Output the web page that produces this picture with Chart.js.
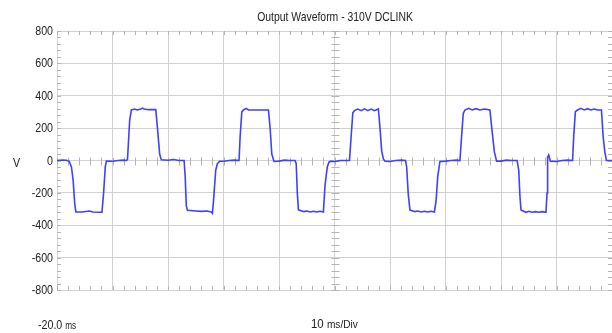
<!DOCTYPE html>
<html>
<head>
<meta charset="utf-8">
<script src="https://cdn.jsdelivr.net/npm/chart.js@4/dist/chart.umd.min.js"></script>
<style>
  body { margin: 0; background: #fff; }
  #wrap { position: relative; width: 612px; height: 333px; color: #222;
          font-family: "Liberation Sans Narrow", "Liberation Sans", Arial, sans-serif; }
  #wrap canvas { position: absolute; left: 0; top: 0; }
  .lbl { position: absolute; white-space: nowrap; font-size: 13px; line-height: 13px;
         transform-origin: left center; transform: scaleX(0.82); }
  .sm { font-size: 10px; }
  .md { font-size: 11.5px; }
</style>
</head>
<body>
<div id="wrap">
  <canvas id="scope" width="612" height="333"></canvas>
  <div class="lbl" style="left:0;width:670px;text-align:center;top:10px;transform-origin:335px center;transform:scaleX(0.8)">Output Waveform - 310V DCLINK</div>
  <div class="lbl" style="left:13px;top:156px">V</div>
  <div class="lbl" style="left:38px;top:318px">-20.0 <span class="sm">ms</span></div>
  <div class="lbl" style="left:311px;top:317px;transform:scaleX(0.88)">10 <span class="md">ms/Div</span></div>
</div>
<script>
// time (ms) and voltage (V), one row per cycle
const timeMs = [
  -20, -19, -18.3, -17.8, -17.4, -17.1, -16.8, -16.6, -15.5, -14.5, -14.2, -13.5, -12.5, -11.9, -11.6, -11.3, -11.1, -10, -9, -8,
  -7.5, -7.3, -6.9, -6.6, -6.0, -5.6, -5.0, -4.6, -4.3, -3.5, -2.2, -1.9, -1.5, -1.2, 0, 1.0, 2.0, 2.6,
  2.9, 3.1, 3.3, 3.5, 5, 6, 7, 7.8, 8.0, 8.2, 8.6, 8.9, 9.3, 10, 11, 12, 12.8, 13.0,
  13.3, 13.6, 14.1, 14.5, 16, 18.1, 18.4, 18.7, 19.1, 20, 21, 22, 22.9,
  23.1, 23.3, 23.5, 24.5, 25, 25.6, 26.2, 26.8, 27.4, 28.0, 28.3, 28.7, 29.0, 29.4, 30, 31, 32, 32.7,
  33.0, 33.3, 33.6, 34.2, 34.8, 35.4, 36.0, 36.6, 37.2, 37.9, 38.2, 38.5, 38.8, 39.1, 40, 41, 42, 42.8,
  43.0, 43.3, 43.6, 44.5, 45, 45.6, 46.2, 46.8, 47.4, 48.0, 48.3, 48.6, 49.0, 50, 51, 52, 52.6, 52.9,
  53.2, 53.5, 54.2, 54.8, 55.5, 56.2, 57, 58.0, 58.4, 58.8, 59.2, 60, 61, 62, 62.9,
  63.2, 63.4, 63.6, 64.5, 65, 65.6, 66.2, 66.8, 67.4, 68.1, 68.3, 68.4, 68.6, 68.9, 70, 71, 72, 72.9,
  73.1, 73.4, 73.8, 74.4, 75, 75.6, 76.2, 76.8, 77.4, 78.1, 78.4, 78.7, 79.0, 80
];
const volts = [
  0, 3, 2, -5, -40, -120, -270, -318, -318, -314, -312, -318, -320, -320, -200, -40, -4, -5, 0, 2,
  0, 5, 250, 312, 318, 312, 316, 324, 318, 314, 314, 200, 40, 4, 2, 6, 0, 0,
  0, -100, -280, -308, -312, -314, -312, -318, -326, -250, -60, -20, -5, -5, 0, 2, 0, 150,
  300, 312, 322, 312, 312, 312, 200, 40, -6, -4, 2, 0, 0,
  -20, -200, -305, -316, -312, -318, -314, -318, -314, -318, -150, -40, -10, -4, -6, 0, 0, 0,
  150, 295, 308, 318, 308, 319, 308, 318, 308, 318, 200, 60, 10, -4, -6, 0, 2, 0,
  -40, -213, -306, -316, -312, -318, -314, -318, -314, -318, -250, -100, -6, -4, 0, 2, 0, 150,
  290, 312, 322, 312, 320, 312, 318, 312, 180, 55, -4, -4, 2, 0, 0,
  -60, -213, -306, -320, -314, -320, -316, -320, -316, -320, -200, 20, 34, -4, -6, 0, 2, 0,
  150, 302, 312, 322, 312, 320, 312, 318, 312, 312, 150, 55, 0, 0
];
const yTickValues = [-800, -600, -400, -200, 0, 200, 400, 600, 800];
const xDivisions = [-20, -10, 0, 10, 20, 30, 40, 50, 60, 70, 80];

const gridColor = '#d2d2d2';

// small sub-division marks on the frame and the centre axes
const minorTicks = {
  id: 'minorTicks',
  beforeDatasetsDraw(chart) {
    const {ctx, chartArea: a, scales: {x, y}} = chart;
    const cx = Math.round(x.getPixelForValue(30)) + 0.5;
    const cy = Math.round(y.getPixelForValue(0)) + 0.5;
    ctx.save();
    ctx.strokeStyle = '#b4b4b4';
    ctx.lineWidth = 1;
    ctx.beginPath();
    for (let t = -20; t <= 80; t += 2) {
      const px = Math.round(x.getPixelForValue(t)) + 0.5;
      ctx.moveTo(px, a.top); ctx.lineTo(px, a.top + 4);
      ctx.moveTo(px, a.bottom); ctx.lineTo(px, a.bottom - 4);
      ctx.moveTo(px, cy - 4); ctx.lineTo(px, cy + 4);
    }
    for (let v = -800; v <= 800; v += 40) {
      const py = Math.round(y.getPixelForValue(v)) + 0.5;
      ctx.moveTo(a.left, py); ctx.lineTo(a.left + 4, py);
      ctx.moveTo(a.right, py); ctx.lineTo(a.right - 4, py);
      ctx.moveTo(cx - 4, py); ctx.lineTo(cx + 4, py);
    }
    ctx.stroke();
    ctx.restore();
  }
};

// y labels in a narrow face (no condensed font installed, so squeeze it)
const yLabels = {
  id: 'yLabels',
  afterDraw(chart) {
    const {ctx, chartArea: a, scales: {y}} = chart;
    ctx.save();
    ctx.fillStyle = '#222';
    ctx.font = '13px "Liberation Sans", Arial, sans-serif';
    ctx.textAlign = 'right';
    ctx.textBaseline = 'middle';
    yTickValues.forEach(v => {
      ctx.save();
      ctx.translate(a.left - 4, y.getPixelForValue(v) + 0.5);
      ctx.scale(0.82, 1);
      ctx.fillText(String(v), 0, 0);
      ctx.restore();
    });
    ctx.restore();
  }
};

new Chart(document.getElementById('scope'), {
  type: 'line',
  data: {
    datasets: [{
      data: timeMs.map((t, i) => ({x: t, y: volts[i]})),
      borderColor: '#4040ff',
      borderWidth: 1.6,
      pointRadius: 0,
      tension: 0,
      fill: false
    }]
  },
  options: {
    responsive: false,
    animation: false,
    devicePixelRatio: 1,
    layout: { padding: { top: 31, right: 0, bottom: 43, left: 0 } },
    plugins: { legend: { display: false }, tooltip: { enabled: false } },
    scales: {
      x: {
        type: 'linear',
        min: -20,
        max: 80,
        afterBuildTicks: s => { s.ticks = xDivisions.map(v => ({value: v})); },
        ticks: { display: false },
        grid: { color: gridColor, drawTicks: false },
        border: { color: gridColor }
      },
      y: {
        min: -800,
        max: 800,
        afterBuildTicks: s => { s.ticks = yTickValues.map(v => ({value: v})); },
        afterFit: s => { s.width = 57; },
        ticks: { display: false },
        grid: { color: gridColor, drawTicks: false },
        border: { color: gridColor }
      }
    }
  },
  plugins: [minorTicks, yLabels]
});
</script>
</body>
</html>
